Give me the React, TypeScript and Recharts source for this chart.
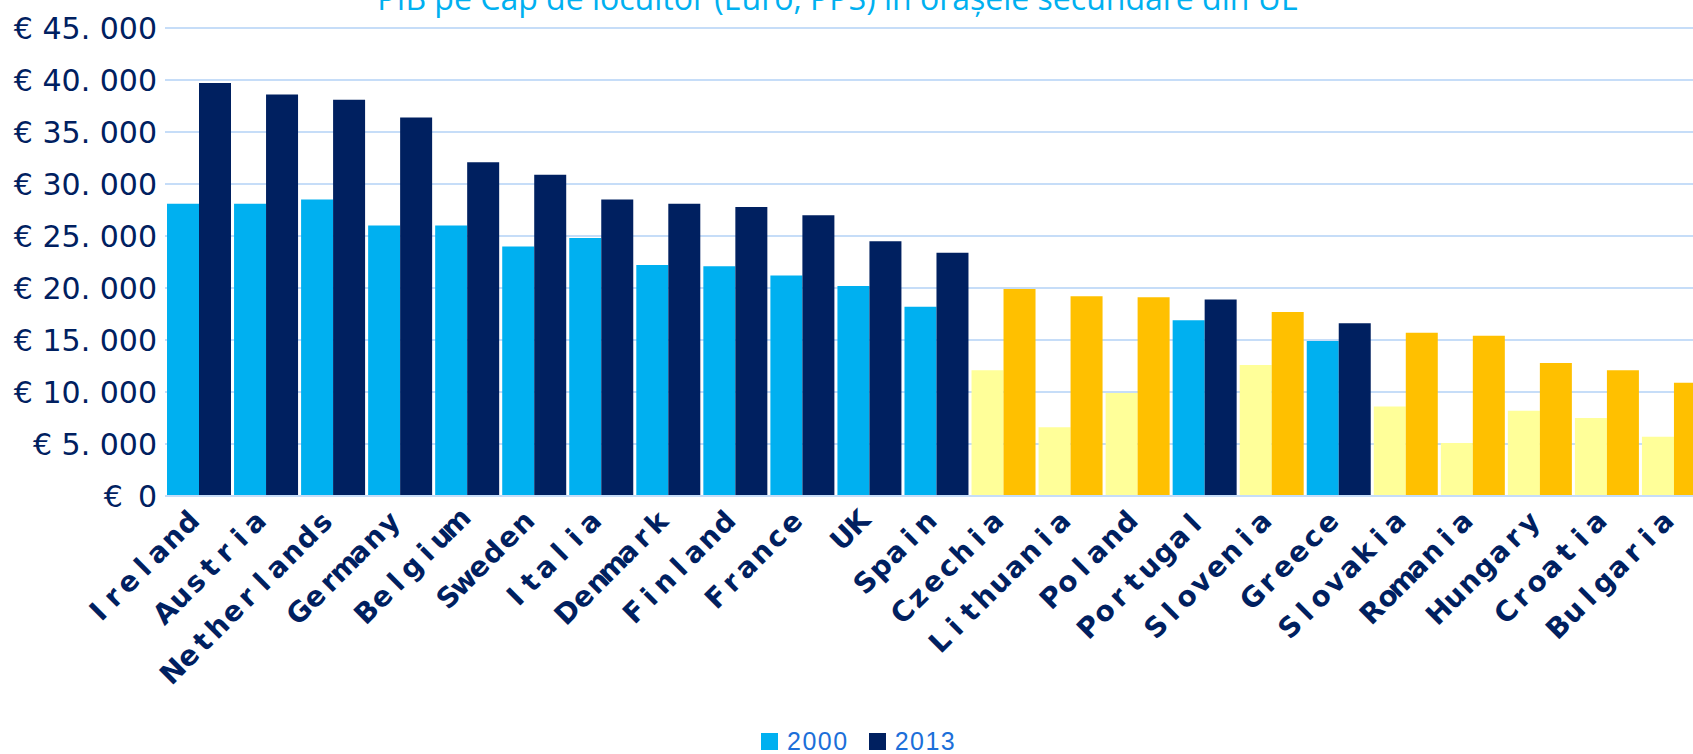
import { BarChart, Bar, Cell, XAxis, YAxis, CartesianGrid } from 'recharts'

// PIB pe cap de locuitor (EUR, PPS), orase secundare
const countries = [
  'Ireland', 'Austria', 'Netherlands', 'Germany', 'Belgium', 'Sweden', 'Italia',
  'Denmark', 'Finland', 'France', 'UK', 'Spain', 'Czechia', 'Lithuania', 'Poland',
  'Portugal', 'Slovenia', 'Greece', 'Slovakia', 'Romania', 'Hungary', 'Croatia', 'Bulgaria',
]
const gdp2000 = [
  28100, 28100, 28500, 26000, 26000, 24000, 24800,
  22200, 22100, 21200, 20200, 18200, 12100, 6600, 9900,
  16900, 12600, 14900, 8600, 5100, 8200, 7500, 5700,
]
const gdp2013 = [
  39700, 38600, 38100, 36400, 32100, 30900, 28500,
  28100, 27800, 27000, 24500, 23400, 19900, 19200, 19100,
  18900, 17700, 16600, 15700, 15400, 12800, 12100, 10900,
]
// new member states get the yellow palette
const newMembers = [
  'Czechia', 'Lithuania', 'Poland', 'Slovenia', 'Slovakia',
  'Romania', 'Hungary', 'Croatia', 'Bulgaria',
]
const yTicks = [0, 5000, 10000, 15000, 20000, 25000, 30000, 35000, 40000, 45000]
const seriesNames = ['2000', '2013']

const data = countries.map((country, i) => ({
  country,
  y2000: gdp2000[i],
  y2013: gdp2013[i],
}))

const NAVY = '#002060'
const colors = {
  old: ['#00B0F0', '#002060'],
  new: ['#FFFF99', '#FFC000'],
}
const GRID = '#C6DDF8'
const ADV = 21 // fixed advance for the slanted country labels

const formatEuro = (v: number) => (v === 0 ? '€\u20020' : `€ ${v / 1000}. 000`)

// eslint-disable-next-line @typescript-eslint/no-explicit-any
function CountryTick(props: any) {
  const { x, y, payload } = props
  const name: string = payload.value
  const n = name.length
  const xs = Array.from(name, (_, i) => -(n - i - 0.5) * ADV)
  return (
    <g transform={`translate(${x + 3},${y + 18}) rotate(-45)`}>
      <text
        x={xs.join(' ')}
        y={0}
        textAnchor="middle"
        fill={NAVY}
        fontSize={28}
        fontWeight="bold"
        fontFamily="DejaVu Sans"
      >
        {name}
      </text>
    </g>
  )
}

export default function App() {
  return (
    <div
      style={{
        position: 'absolute',
        left: 0,
        top: 0,
        width: 1693,
        height: 754,
        overflow: 'hidden',
        background: '#fff',
      }}
    >
      <div
        style={{
          position: 'absolute',
          top: -18,
          left: 0,
          width: 1676,
          textAlign: 'center',
          fontFamily: 'Open Sans',
          fontSize: 32,
          lineHeight: '32px',
          color: '#00B0F0',
          whiteSpace: 'nowrap',
        }}
      >
        PIB pe Cap de locuitor (Euro, PPS) în orașele secundare din UE
      </div>
      <BarChart
        width={1707}
        height={754}
        data={data}
        margin={{ top: 28, right: 0, bottom: 58, left: 0 }}
        barCategoryGap={2}
        barGap={0}
        style={{ position: 'absolute', left: 0, top: 0 }}
      >
        <CartesianGrid vertical={false} stroke={GRID} strokeWidth={2} />
        <XAxis
          dataKey="country"
          interval={0}
          height={200}
          tickLine={false}
          axisLine={{ stroke: GRID, strokeWidth: 2 }}
          tick={<CountryTick />}
        />
        <YAxis
          width={165}
          domain={[0, 45000]}
          ticks={yTicks}
          tickFormatter={formatEuro}
          axisLine={false}
          tickLine={false}
          tick={{ fill: NAVY, fontSize: 30, fontFamily: 'DejaVu Sans' }}
        />
        <Bar dataKey="y2000" name={seriesNames[0]} fill={colors.old[0]} isAnimationActive={false}>
          {data.map((d) => (
            <Cell
              key={d.country}
              fill={newMembers.includes(d.country) ? colors.new[0] : colors.old[0]}
            />
          ))}
        </Bar>
        <Bar dataKey="y2013" name={seriesNames[1]} fill={colors.old[1]} isAnimationActive={false}>
          {data.map((d) => (
            <Cell
              key={d.country}
              fill={newMembers.includes(d.country) ? colors.new[1] : colors.old[1]}
            />
          ))}
        </Bar>
      </BarChart>
      <div
        style={{
          position: 'absolute',
          top: 729,
          left: 761,
          display: 'flex',
          alignItems: 'center',
          fontFamily: 'Liberation Sans',
          fontSize: 25,
          lineHeight: '25px',
          letterSpacing: 1.5,
          color: '#1C6FD9',
        }}
      >
        {seriesNames.map((name, i) => (
          <span key={name} style={{ display: 'flex', alignItems: 'center', marginRight: 20 }}>
            <span
              style={{
                display: 'inline-block',
                width: 17,
                height: 17,
                background: colors.old[i],
                marginRight: 9,
              }}
            />
            {name}
          </span>
        ))}
      </div>
    </div>
  )
}
